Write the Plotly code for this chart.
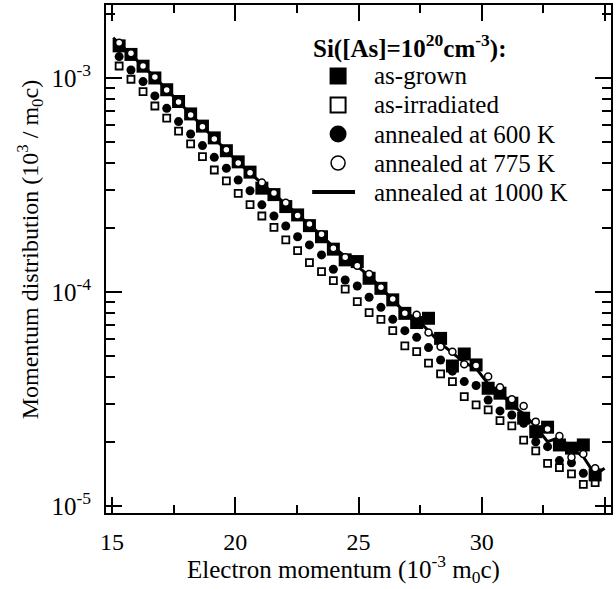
import plotly.graph_objects as go

# common momentum grid (10^-3 m0c)
momentum = [15.29, 15.77, 16.26, 16.74, 17.22, 17.70, 18.19, 18.67, 19.15, 19.64,
            20.12, 20.60, 21.08, 21.57, 22.05, 22.53, 23.01, 23.50, 23.98, 24.46,
            24.95, 25.43, 25.91, 26.39, 26.88, 27.36, 27.84, 28.33, 28.81, 29.29,
            29.77, 30.26, 30.74, 31.22, 31.70, 32.19, 32.67, 33.15, 33.64, 34.12, 34.60]

# log10 of momentum distribution
log_as_grown = [-2.850, -2.890, -2.945, -3.000, -3.055, -3.110, -3.168, -3.225, -3.280, -3.340,
                -3.392, -3.440, -3.515, -3.545, -3.601, -3.640, -3.690, -3.742, -3.800, -3.850,
                -3.858, -3.936, -3.983, -4.037, -4.100, -4.143, -4.123, -4.217, -4.346, -4.290,
                -4.341, -4.450, -4.473, -4.520, -4.590, -4.653, -4.632, -4.715, -4.730, -4.715, -4.855]
log_as_irradiated = [-2.944, -3.006, -3.064, -3.131, -3.188, -3.248, -3.308, -3.368, -3.430, -3.481,
                     -3.539, -3.592, -3.645, -3.698, -3.757, -3.807, -3.863, -3.905, -3.947, -3.987,
                     -4.045, -4.097, -4.128, -4.181, -4.252, -4.279, -4.333, -4.383, -4.419, -4.489,
                     -4.528, -4.551, -4.601, -4.626, -4.692, -4.743, -4.801, -4.821, -4.850, -4.899, -4.891]
log_600K = [-2.900, -2.963, -3.017, -3.084, -3.142, -3.204, -3.262, -3.316, -3.371, -3.422,
            -3.477, -3.527, -3.593, -3.645, -3.692, -3.742, -3.780, -3.827, -3.894, -3.944,
            -3.972, -4.025, -4.072, -4.128, -4.181, -4.212, -4.260, -4.318, -4.370, -4.419,
            -4.437, -4.505, -4.556, -4.575, -4.614, -4.700, -4.723, -4.788, -4.798, -4.847, -4.863]
log_775K = [-2.835, -2.885, -2.944, -2.995, -3.056, -3.112, -3.173, -3.228, -3.285, -3.336,
            -3.397, -3.443, -3.489, -3.537, -3.583, -3.643, -3.682, -3.730, -3.796, -3.838,
            -3.877, -3.916, -3.978, -4.033, -4.100, -4.107, -4.190, -4.256, -4.279, -4.338,
            -4.344, -4.395, -4.445, -4.501, -4.533, -4.606, -4.640, -4.673, -4.772, -4.757, -4.824]

momentum_1000K = [15.05] + momentum + [34.98]
log_1000K = [-2.812, -2.838, -2.888, -2.942, -2.997, -3.054, -3.112, -3.170, -3.226, -3.283, -3.338,
             -3.395, -3.444, -3.492, -3.540, -3.590, -3.640, -3.688, -3.736, -3.790, -3.835,
             -3.878, -3.925, -3.980, -4.035, -4.095, -4.125, -4.180, -4.240, -4.285, -4.330,
             -4.357, -4.430, -4.470, -4.528, -4.570, -4.630, -4.700, -4.680, -4.730, -4.770, -4.855,
             -4.824]

series_names = ["as-grown", "as-irradiated", "annealed at 600 K", "annealed at 775 K", "annealed at 1000 K"]
legend_title = "<b>Si([As]=10<sup>20</sup>cm<sup>-3</sup>):</b>"
x_title = "Electron momentum (10<sup>-3</sup> m<sub>0</sub>c)"
y_title = "Momentum distribution (10<sup>3</sup> / m<sub>0</sub>c)"

x_tickvals = [15, 20, 25, 30, 35]
x_minor = [17.5, 22.5, 27.5, 32.5]
y_tickvals = [1e-5, 1e-4, 1e-3]
y_ticktext = ["10<sup>-5</sup>", "10<sup>-4</sup>", "10<sup>-3</sup>"]


def lin(v):
    return [10 ** a for a in v]


FONT = "Times New Roman, Liberation Serif, Times, serif"
fig = go.Figure()

# data traces
fig.add_trace(go.Scatter(x=momentum, y=lin(log_as_irradiated), mode="markers", name=series_names[1],
                         marker=dict(symbol="square", size=7, color="white",
                                     line=dict(color="black", width=1.8))))
fig.add_trace(go.Scatter(x=momentum, y=lin(log_600K), mode="markers", name=series_names[2],
                         marker=dict(symbol="circle", size=9, color="black",
                                     line=dict(color="black", width=0))))
fig.add_trace(go.Scatter(x=momentum, y=lin(log_as_grown), mode="markers", name=series_names[0],
                         marker=dict(symbol="square", size=13, color="black",
                                     line=dict(color="black", width=0))))
fig.add_trace(go.Scatter(x=momentum_1000K, y=lin(log_1000K), mode="lines", name=series_names[4],
                         line=dict(color="black", width=3)))
fig.add_trace(go.Scatter(x=momentum, y=lin(log_775K), mode="markers", name=series_names[3],
                         marker=dict(symbol="circle", size=7, color="white",
                                     line=dict(color="black", width=1.5))))

# ---- hand-built legend (layout: paper coordinates) ----
PW, PH, ML, MB = 507, 508, 106, 76


def px_x(p):
    return (p - ML) / PW


def px_y(p):
    return (513 - p) / PH


row_y = [76, 105, 134, 163, 192]
key_x = 339
text_x = 373
key_kinds = ["fsq", "osq", "fci", "oci", "line"]

annotations = [dict(text=legend_title, x=px_x(312), y=px_y(47), xref="paper", yref="paper",
                    xanchor="left", yanchor="middle", showarrow=False,
                    font=dict(family=FONT, size=25, color="black"))]
shapes = []
for name, ry, kind in zip(series_names, row_y, key_kinds):
    annotations.append(dict(text=name, x=px_x(text_x), y=px_y(ry), xref="paper", yref="paper",
                            xanchor="left", yanchor="middle", showarrow=False,
                            font=dict(family=FONT, size=25, color="black")))
    common = dict(xref="paper", yref="paper", xsizemode="pixel", ysizemode="pixel",
                  xanchor=px_x(key_x), yanchor=px_y(ry))
    if kind == "fsq":
        shapes.append(dict(type="rect", x0=-8.5, x1=8.5, y0=-8.5, y1=8.5,
                           fillcolor="black", line=dict(width=0), **common))
    elif kind == "osq":
        shapes.append(dict(type="rect", x0=-7.5, x1=7.5, y0=-7.5, y1=7.5,
                           fillcolor="white", line=dict(color="black", width=2), **common))
    elif kind == "fci":
        shapes.append(dict(type="circle", x0=-8.5, x1=8.5, y0=-8.5, y1=8.5,
                           fillcolor="black", line=dict(width=0), **common))
    elif kind == "oci":
        shapes.append(dict(type="circle", x0=-7, x1=7, y0=-7, y1=7,
                           fillcolor="white", line=dict(color="black", width=1.5), **common))
    else:
        shapes.append(dict(type="line", x0=px_x(313), x1=px_x(356), y0=px_y(ry), y1=px_y(ry),
                           xref="paper", yref="paper", line=dict(color="black", width=4)))

# axis titles as positioned text
annotations.append(dict(text=x_title, x=px_x(344), y=px_y(569), xref="paper", yref="paper",
                        xanchor="center", yanchor="middle", showarrow=False,
                        font=dict(family=FONT, size=25, color="black")))
annotations.append(dict(text=y_title, x=px_x(30), y=px_y(250), xref="paper", yref="paper",
                        xanchor="center", yanchor="middle", showarrow=False, textangle=-90,
                        font=dict(family=FONT, size=24, color="black")))

axis_common = dict(showline=True, linecolor="black", linewidth=2, mirror="allticks",
                   ticks="inside", ticklen=16, tickwidth=2, tickcolor="black",
                   showgrid=False, zeroline=False)

fig.update_xaxes(range=[14.757, 35.243], tickvals=x_tickvals, ticktext=[str(v) for v in x_tickvals],
                 minor=dict(tickvals=x_minor, ticks="inside", ticklen=8, tickwidth=2, tickcolor="black"),
                 tickfont=dict(family=FONT, size=24, color="black"),
                 ticklabelstandoff=6, **axis_common)

y_minor = [m * d for d in (1e-5, 1e-4, 1e-3) for m in range(2, 10) if m * d < 2.2e-3]
fig.update_yaxes(type="log", range=[-5.033, -2.659], tickvals=y_tickvals, ticktext=y_ticktext,
                 minor=dict(tickvals=y_minor, ticks="inside", ticklen=9, tickwidth=2, tickcolor="black"),
                 tickfont=dict(family=FONT, size=25, color="black"),
                 ticklabelstandoff=8, **axis_common)

fig.update_layout(
    width=616, height=589,
    margin=dict(l=ML, r=3, t=5, b=MB),
    paper_bgcolor="white", plot_bgcolor="white",
    font=dict(family=FONT, size=24, color="black"),
    showlegend=False,
    annotations=annotations,
    shapes=shapes,
)

fig.write_html("out.html")
